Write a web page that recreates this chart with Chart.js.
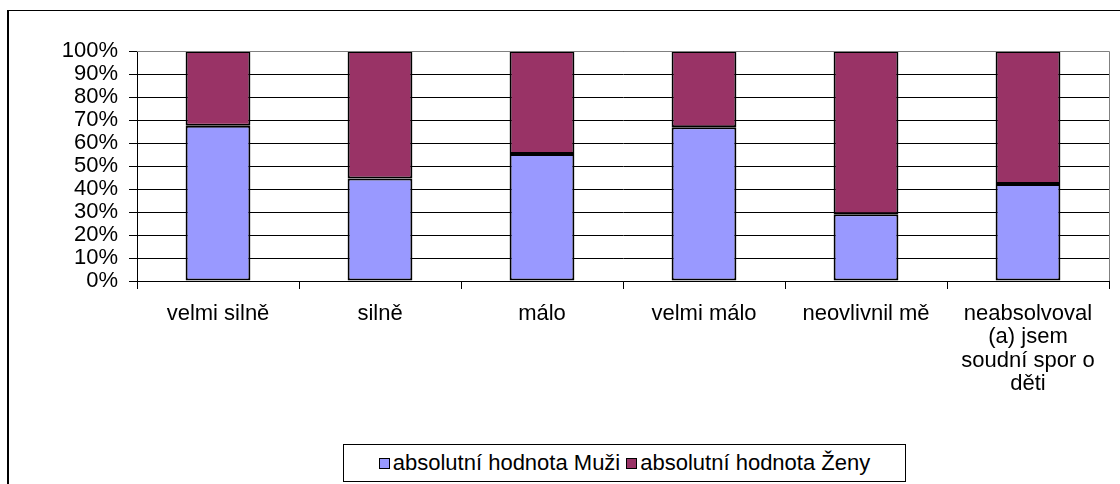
<!DOCTYPE html>
<html>
<head>
<meta charset="utf-8">
<script src="https://cdn.jsdelivr.net/npm/chart.js@4"></script>
<style>
  html, body { margin: 0; padding: 0; background: #fff; overflow: hidden; }
  #wrap { position: relative; width: 1120px; height: 484px; }
  #frame { position: absolute; left: 7px; top: 10px; width: 1200px; height: 600px;
           border-left: 2px solid #000; border-top: 1px solid #000; }
  #chart { position: absolute; left: 0; top: 0; }
  #legend { position: absolute; left: 343px; top: 444px; width: 561px; height: 36px;
            border: 1px solid #000; display: flex; align-items: center; justify-content: center;
            font: 22px "Liberation Sans", Arial, sans-serif; color: #000; background: #fff; }
  #legend span.item { display: flex; align-items: center; margin: 0 3px; }
  #legend span.box { width: 9px; height: 9px; border: 1px solid #000; margin-right: 3px; }
</style>
</head>
<body>
<div id="wrap">
  <div id="frame"></div>
  <canvas id="chart" width="1120" height="484"></canvas>
  <div id="legend"></div>
</div>
<script>
// categories and shares (in %)
const categories = [
  'velmi silně',
  'silně',
  'málo',
  'velmi málo',
  'neovlivnil mě',
  ['neabsolvoval', '(a) jsem', 'soudní spor o', 'děti']
];
const muzi = [67.5, 44.6, 55.2, 66.8, 29.0, 42.2];
const zeny = [32.5, 55.4, 44.8, 33.2, 71.0, 57.8];
const seriesNames = ['absolutní hodnota Muži', 'absolutní hodnota Ženy'];
const seriesColors = ['#9999FF', '#993366'];

const FONT = { family: '"Liberation Sans", Arial, sans-serif', size: 22 };

// gray border on the top and right of the plot area, like Excel
const plotFrame = {
  id: 'plotFrame',
  afterDraw(chart) {
    const { ctx, chartArea: a } = chart;
    ctx.save();
    ctx.strokeStyle = '#808080';
    ctx.lineWidth = 1;
    ctx.beginPath();
    ctx.moveTo(a.left, a.top + 0.5);
    ctx.lineTo(a.right + 0.5, a.top + 0.5);
    ctx.lineTo(a.right + 0.5, a.bottom);
    ctx.stroke();
    ctx.restore();
  }
};

const chart = new Chart(document.getElementById('chart'), {
  type: 'bar',
  data: {
    labels: categories,
    datasets: [
      { label: seriesNames[0], data: muzi, backgroundColor: seriesColors[0] },
      { label: seriesNames[1], data: zeny, backgroundColor: seriesColors[1] }
    ]
  },
  options: {
    responsive: false,
    animation: false,
    layout: { padding: { left: 0, top: 51, right: 11, bottom: 53 } },
    datasets: {
      bar: { borderColor: '#000', borderWidth: 2, borderSkipped: false,
             barPercentage: 0.4, categoryPercentage: 1 }
    },
    plugins: { legend: { display: false }, tooltip: { enabled: false } },
    scales: {
      x: {
        stacked: true,
        afterFit(s) { s.height = 150; },
        grid: { drawOnChartArea: false, tickLength: 8, color: '#000', offset: true },
        border: { color: '#000', width: 1 },
        ticks: { color: '#000', font: { ...FONT, lineHeight: 1.07 }, padding: 13,
                 maxRotation: 0, autoSkip: false }
      },
      y: {
        stacked: true,
        min: 0, max: 100,
        afterFit(s) { s.width = 137; },
        grid: { color: '#000', tickLength: 8 },
        border: { color: '#000', width: 1 },
        ticks: { stepSize: 10, color: '#000', font: FONT, padding: 11, autoSkip: false,
                 callback: v => v + '%' }
      }
    }
  },
  plugins: [plotFrame]
});

// legend built from the datasets
const legend = document.getElementById('legend');
chart.data.datasets.forEach(ds => {
  const item = document.createElement('span');
  item.className = 'item';
  const box = document.createElement('span');
  box.className = 'box';
  box.style.background = ds.backgroundColor;
  item.appendChild(box);
  item.appendChild(document.createTextNode(ds.label));
  legend.appendChild(item);
});
</script>
</body>
</html>
